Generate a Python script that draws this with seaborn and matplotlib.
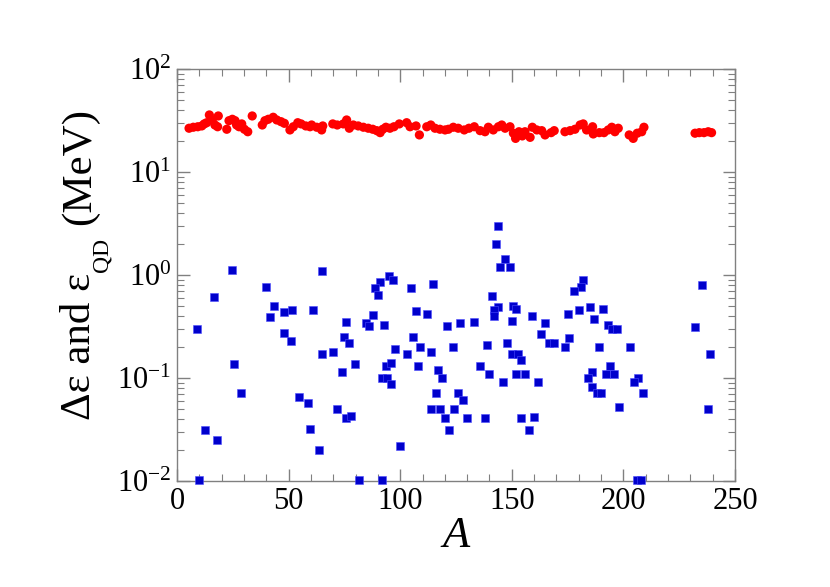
import numpy as np
import pandas as pd
import matplotlib
matplotlib.use("Agg")
import matplotlib.pyplot as plt
import seaborn as sns
from matplotlib.ticker import LogLocator, MultipleLocator, LogFormatterMathtext

# ---- data: red circles (Delta epsilon) ----
red_A = [5.4, 7.3, 9.3, 11.1, 12.2, 13.3, 14.5, 15.8, 17.0, 18.2, 18.5, 22.3, 23.3, 24.8,
         26.0, 26.7, 27.8, 29.0, 30.2, 31.7, 33.7, 38.2, 39.4, 40.9, 43.1, 44.7, 46.6, 48.1,
         50.6, 52.1, 54.1, 55.6, 57.7, 59.6, 60.3, 62.6, 64.8, 65.3, 69.8, 71.8, 74.5, 76.0,
         77.2, 79.0, 81.2, 83.5, 85.7, 87.7, 89.5, 91.0, 92.2, 93.6, 95.4, 97.2, 99.6, 102.9,
         104.4, 107.1, 108.6, 111.9, 113.7, 115.6, 117.8, 120.1, 121.6, 123.8, 126.0, 128.7,
         130.8, 133.2, 135.8, 138.0, 139.5, 141.7, 144.0, 145.5, 147.0, 149.2, 150.7, 151.7,
         153.2, 154.7, 155.9, 158.2, 159.2, 161.2, 163.4, 164.9, 167.6, 169.0, 173.8, 176.1,
         178.3, 180.6, 182.0, 183.5, 186.2, 186.5, 189.2, 191.3, 193.2, 194.8, 196.2, 197.7,
         202.6, 204.4, 206.2, 208.2, 209.2, 232.1, 234.0, 236.1, 238.0, 239.5]
red_E = [26.6, 27.2, 27.5, 28.0, 29.3, 30.1, 35.8, 32.0, 28.6, 27.5, 35.0, 26.0, 31.5, 32.5,
         31.5, 28.6, 27.5, 29.3, 26.0, 24.6, 35.0, 28.6, 31.5, 32.5, 34.0, 32.0, 30.8, 29.7,
         25.6, 27.5, 30.1, 29.3, 28.0, 27.5, 28.6, 27.2, 25.6, 28.0, 29.3, 28.6, 29.3, 32.0,
         26.6, 28.6, 28.0, 27.2, 26.6, 26.0, 25.2, 24.1, 26.0, 27.2, 26.6, 27.5, 29.3, 30.1,
         27.5, 28.0, 22.9, 27.5, 28.6, 26.6, 26.0, 25.6, 26.0, 27.2, 26.6, 25.6,
         26.6, 27.5, 25.2, 24.6, 27.2, 25.6, 27.5, 28.6, 26.6, 27.5, 23.8, 21.2,
         24.6, 22.4, 24.6, 21.7, 27.2, 25.6, 25.2, 22.9, 24.1, 25.2, 24.6, 25.2,
         26.0, 28.6, 29.3, 25.6, 27.5, 23.4, 24.1, 24.1, 25.6, 27.2, 24.6, 26.6,
         22.9, 21.2, 23.8, 24.6, 27.2, 23.8, 24.1, 24.1, 24.6, 24.1]

# ---- data: blue squares (epsilon_QD) ----
blue_A = [24.6, 64.8, 39.7, 16.7, 43.6, 47.8, 51.7, 60.8, 41.7, 8.8, 75.9, 84.7, 47.8, 50.9,
          74.8, 76.9, 64.8, 69.7, 79.9, 25.7, 73.8, 28.5, 54.8, 58.7, 71.8, 75.9, 77.8, 12.7,
          17.8, 59.7, 63.8, 9.9, 81.7,
          144.0, 142.9, 147.0, 144.9, 149.1, 94.8, 96.6, 90.8, 114.7, 104.7, 88.7, 89.9, 141.0,
          143.8, 142.0, 142.0, 150.7, 151.9, 106.9, 111.9, 158.9, 87.7, 86.0, 92.7, 150.0,
          120.8, 126.9, 132.9, 165.0, 162.9, 105.9, 97.8, 108.9, 102.9, 113.7, 123.8, 138.7,
          147.8, 150.1, 152.9, 154.0, 166.8, 93.8, 95.9, 107.8, 116.8, 118.9, 135.9, 139.8,
          145.9, 151.9, 155.9, 161.9, 91.8, 93.9, 95.9, 115.9, 125.8, 128.0, 113.8, 117.8,
          124.0, 119.9, 129.8, 137.9, 154.0, 159.8, 121.7, 157.9, 99.9, 91.7,
          181.9, 181.0, 177.9, 235.1, 175.0, 180.0, 185.0, 190.9, 187.0, 192.9, 194.7, 197.0,
          232.0, 169.0, 175.8, 173.8, 188.9, 202.8, 238.9, 193.9, 185.9, 192.2, 196.0, 184.0,
          206.7, 204.9, 185.9, 188.0, 190.0, 208.9, 197.9, 238.0, 206.0, 208.0]
blue_E = [1.12, 1.09, 0.77, 0.61, 0.50, 0.44, 0.46, 0.46, 0.39, 0.30, 0.35, 0.34, 0.275, 0.23,
          0.25, 0.22, 0.17, 0.18, 0.138, 0.138, 0.115, 0.072, 0.065, 0.057, 0.050, 0.041, 0.043,
          0.031, 0.025, 0.032, 0.020, 0.0102, 0.0102,
          3.0, 2.0, 1.42, 1.20, 1.20, 0.98, 0.89, 0.86, 0.82, 0.74, 0.74, 0.64, 0.625,
          0.49, 0.46, 0.40, 0.50, 0.47, 0.45, 0.42, 0.40, 0.41, 0.32, 0.33, 0.36,
          0.32, 0.34, 0.35, 0.34, 0.27, 0.25, 0.19, 0.20, 0.17, 0.18, 0.20, 0.21,
          0.22, 0.17, 0.17, 0.15, 0.22, 0.13, 0.14, 0.13, 0.12, 0.10, 0.13, 0.11,
          0.091, 0.11, 0.11, 0.091, 0.10, 0.10, 0.087, 0.071, 0.071, 0.061, 0.050, 0.050,
          0.050, 0.041, 0.041, 0.041, 0.041, 0.042, 0.031, 0.031, 0.022, 0.0102,
          0.89, 0.77, 0.70, 0.80, 0.42, 0.46, 0.49, 0.47, 0.37, 0.33, 0.30, 0.30,
          0.31, 0.22, 0.243, 0.20, 0.20, 0.20, 0.17, 0.13, 0.114, 0.11, 0.11, 0.10,
          0.10, 0.091, 0.081, 0.071, 0.071, 0.071, 0.052, 0.050, 0.0102, 0.0102]

x_ticks = [0, 50, 100, 150, 200, 250]
ylabel_main = "Δε and ε"
ylabel_sub = "QD"
ylabel_unit = "(MeV)"

sns.set_theme(style="white")
plt.rcParams["font.family"] = "serif"
plt.rcParams["font.serif"] = ["Liberation Serif", "Times New Roman", "DejaVu Serif"]
plt.rcParams["mathtext.fontset"] = "custom"
plt.rcParams["mathtext.rm"] = "Liberation Serif"
plt.rcParams["mathtext.it"] = "Liberation Serif:italic"
plt.rcParams["mathtext.bf"] = "Liberation Serif:bold"
plt.rcParams["text.color"] = "black"
plt.rcParams["axes.labelcolor"] = "black"

red_df = pd.DataFrame({"A": red_A, "E": red_E})
blue_df = pd.DataFrame({"A": blue_A, "E": blue_E})

W, H = 830, 587
fig = plt.figure(figsize=(W / 100, H / 100), dpi=100)
ax = fig.add_axes([177 / W, 1 - 481 / H, (735 - 177) / W, (481 - 69) / H])

sns.scatterplot(data=red_df, x="A", y="E", ax=ax, color="#ff0000", marker="o",
                s=44, edgecolor="none", linewidth=0, legend=False, zorder=3)
sns.scatterplot(data=blue_df, x="A", y="E", ax=ax, color="#0000cc", marker="s",
                s=36, edgecolor="#4d4dff", linewidth=0.4, legend=False, zorder=3,
                clip_on=False)

ax.set_yscale("log")
ax.set_xlim(0, 250)
ax.set_ylim(1e-2, 1e2)
ax.set_xticks(x_ticks)
ax.set_xticklabels([str(t) for t in x_ticks])
ax.xaxis.set_minor_locator(MultipleLocator(10))
ax.yaxis.set_major_locator(LogLocator(base=10, numticks=10))
ax.yaxis.set_minor_locator(LogLocator(base=10, subs=np.arange(2, 10), numticks=20))
ax.yaxis.set_major_formatter(LogFormatterMathtext())

spine_col = "#808080"
for s in ax.spines.values():
    s.set_color(spine_col)
    s.set_linewidth(1.0)

ax.tick_params(which="both", direction="in", top=True, right=True, bottom=True, left=True,
               colors=spine_col, labelcolor="black")
ax.tick_params(which="major", length=9, width=1.0, labelsize=22, pad=4)
ax.tick_params(which="minor", length=5, width=0.8)
for lab in ax.get_xticklabels() + ax.get_yticklabels():
    lab.set_fontfamily("Liberation Serif")

ax.set_xlabel("$A$", fontsize=32, labelpad=0)
ax.set_ylabel("")

# y label built from pieces so the subscript sits low as in the reference
fig.canvas.draw()
r = fig.canvas.get_renderer()
base_x = 90      # pixel column of main baseline
start_y = 420    # pixel row (from top) where the label starts
kw = dict(rotation=90, rotation_mode="anchor", ha="left", va="baseline",
          family="Liberation Serif", color="black")
t1 = fig.text(base_x / W, 1 - start_y / H, ylabel_main, fontsize=31, **kw)
bb1 = t1.get_window_extent(r)
t2 = fig.text((base_x + 17) / W, (bb1.y1 + 1) / H, ylabel_sub, fontsize=17, **kw)
bb2 = t2.get_window_extent(r)
t3 = fig.text(base_x / W, (bb2.y1 + 13) / H, ylabel_unit, fontsize=31, **kw)

fig.savefig("out.png", dpi=100)
